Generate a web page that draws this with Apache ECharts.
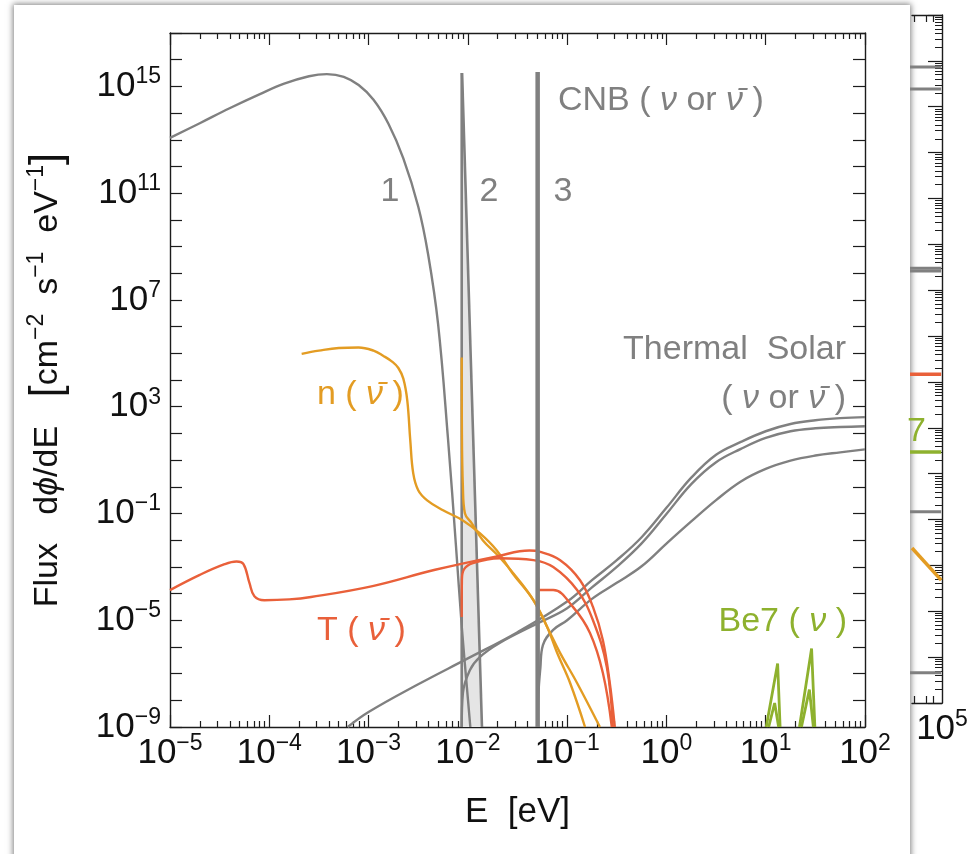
<!DOCTYPE html>
<html><head><meta charset="utf-8">
<script src="https://cdn.jsdelivr.net/npm/echarts@6/dist/echarts.min.js"></script>
<style>
html,body{margin:0;padding:0;background:#fff;width:976px;height:854px;overflow:hidden;}
#card{position:absolute;left:14px;top:5px;width:896px;height:920px;background:#fff;box-shadow:0 0 6px 1px rgba(0,0,0,0.5);}
#chart{position:absolute;left:0;top:0;width:976px;height:854px;}
</style></head><body>
<div id="card"></div>
<div id="chart"></div>
<script>
// ---------- data: log10(E / eV) and log10(flux) ----------
// relic neutrino spectrum for the lightest mass state ("1")
const relicE = [-5, -4.7, -4.4, -4.1, -3.85, -3.6, -3.42, -3.25, -3.1, -2.95, -2.8, -2.65, -2.5, -2.4, -2.3, -2.2, -2.12, -2.06, -2.01, -1.975];
const relicF = [13.07, 13.62, 14.18, 14.70, 15.10, 15.38, 15.46, 15.36, 15.05, 14.5, 13.6, 12.3, 10.5, 8.7, 6.1, 1.8, -2.2, -5.3, -7.5, -9];
// CNB mass state 2 (shaded narrow band)
const band2E = [-2.062, -2.062, -1.858, -2.058];
const band2F = [15.5, -9, -9, 15.5];
const band2LeftE = [-2.062, -2.062];
const band2LeftF = [15.5, -9];
const band2RightE = [-2.058, -1.858];
const band2RightF = [15.5, -9];
// CNB mass state 3 (thick line)
const cnb3E = [-1.297, -1.297];
const cnb3F = [15.54, -9];
// thermal solar (three mass states)
const solar1E = [-3.21, -3.0, -2.5, -2.0, -1.5, -1.0, -0.75, -0.5, -0.25, 0.0, 0.25, 0.5, 0.75, 1.0, 1.25, 1.5, 1.75, 2.0];
const solar1F = [-9, -8.44, -7.40, -6.43, -5.45, -4.30, -3.5, -2.75, -1.89, -0.79, 0.34, 1.2, 1.68, 2.08, 2.35, 2.49, 2.57, 2.61];
const solar2E = [-2.062, -2.05, -1.98, -1.88, -1.68, -1.30, -1.0, -0.75, -0.5, -0.25, 0.0, 0.25, 0.5, 0.75, 1.0, 1.25, 1.5, 1.75, 2.0];
const solar2F = [-9, -7.73, -6.87, -6.38, -5.85, -5.12, -4.55, -3.77, -3.0, -2.12, -1.02, 0.1, 0.92, 1.42, 1.83, 2.08, 2.19, 2.24, 2.27];
const solar3E = [-1.297, -1.29, -1.27, -1.244, -1.143, -1.0, -0.75, -0.5, -0.25, 0.0, 0.25, 0.5, 0.75, 1.0, 1.25, 1.5, 1.75, 2.0];
const solar3F = [-9, -7.8, -6.8, -5.93, -5.37, -5.0, -4.2, -3.6, -2.98, -2.13, -1.3, -0.5, 0.2, 0.67, 0.98, 1.17, 1.29, 1.40];
// n (anti-nu) : three mass states
const n1E = [-3.674, -3.5, -3.3, -3.1, -2.95, -2.85, -2.76, -2.7, -2.65, -2.61, -2.58, -2.55, -2.5, -2.41, -2.25, -2.05, -1.88, -1.71, -1.55, -1.34, -1.20, -1.10, -0.97, -0.82];
const n1F = [4.98, 5.1, 5.2, 5.22, 5.1, 4.9, 4.68, 4.45, 4.05, 3.23, 1.74, 0.5, -0.13, -0.51, -0.88, -1.26, -1.74, -2.38, -3.24, -4.25, -5.26, -6.23, -7.35, -9];
const n2E = [-2.062, -2.06, -2.05, -2.03, -1.96, -1.85, -1.68, -1.51, -1.34, -1.20, -1.07, -0.90, -0.67];
const n2F = [4.84, 2.0, 0.0, -0.99, -1.37, -2.0, -2.64, -3.39, -4.25, -5.26, -6.23, -7.35, -9];
const n3E = [-1.293, -1.29, -1.27];
const n3F = [-3.39, -4.5, -4.85];
// T (anti-nu) : three mass states
const t1E = [-5, -4.7, -4.45, -4.33, -4.26, -4.2, -4.15, -4.05, -3.8, -3.58, -2.96, -2.33, -1.70, -1.38, -1.27, -1.07, -0.87, -0.74, -0.64, -0.57, -0.52];
const t1F = [-3.87, -3.3, -2.9, -2.80, -2.9, -3.6, -4.1, -4.25, -4.22, -4.13, -3.72, -3.11, -2.60, -2.39, -2.44, -2.75, -3.5, -4.5, -5.75, -7.37, -9];
const t2E = [-2.062, -2.06, -2.04, -1.95, -1.68, -1.34, -1.14, -0.90, -0.74, -0.60, -0.54];
const t2F = [-4.88, -3.5, -3.1, -2.86, -2.68, -2.75, -3.01, -3.87, -5.0, -6.76, -9];
const t3E = [-1.297, -1.295, -1.28, -1.14, -0.94, -0.77, -0.64, -0.55];
const t3F = [-5.0, -4.1, -3.87, -3.87, -4.51, -5.48, -6.98, -9];
// Be7 lines
const be7aE = [1.005, 1.12, 1.145];
const be7aF = [-9, -6.62, -9];
const be7bE = [1.03, 1.09, 1.13];
const be7bF = [-9, -8.1, -9];
const be7cE = [1.34, 1.462, 1.495];
const be7cF = [-9, -6.06, -9];
const be7dE = [1.36, 1.44, 1.48];
const be7dF = [-9, -7.6, -9];
// neighbouring panel (partly hidden): horizontal level marks
const sideE = [4.2, 4.98];
const sideGray = [3.866, 3.387, -0.52, -0.58, -5.83, -9.34];
const sideRed = -2.83;
const sideGreen = -4.53;
const sideOrangeE = [4.25, 4.98];
const sideOrangeF = [-6.62, -7.32];

// ---------- helpers ----------
const FONT = '"Liberation Sans", Arial, Helvetica, sans-serif';
const AX = '#1c1c1c';
const GRAY = '#808080', ORANGE = '#e39c23', RED = '#e9603a', GREEN = '#8eb12e';
const pairs = (xs, ys) => xs.map((x, i) => [x, ys[i]]);
const sup = n => String(n).replace('-', '\u2212');
const richTick = {
  b: { fontFamily: FONT, fontSize: 35, color: '#111', lineHeight: 42 },
  s: { fontFamily: FONT, fontSize: 23, color: '#111', lineHeight: 42, verticalAlign: 'top' }
};
const minorX = [];
for (let n = -5; n < 2; n++) for (let k = 2; k <= 9; k++) minorX.push(n + Math.log10(k));
const minorSideY = [];
for (let n = -10; n < 5; n++) for (let k = 2; k <= 9; k++) minorSideY.push(n + Math.log10(k));
const sideMinorX = [4.301, 4.602, 4.778];

function line(xs, ys, color, width, extra) {
  return Object.assign({
    type: 'line', data: pairs(xs, ys), symbol: 'none', showSymbol: false,
    lineStyle: { color: color, width: width }, itemStyle: { color: color },
    smooth: 0.4, animation: false, silent: true, z: 3, xAxisIndex: 0, yAxisIndex: 0
  }, extra || {});
}
const axLine = { show: true, onZero: false, lineStyle: { color: AX, width: 1.4 } };
const noLine = { show: false, onZero: false };

const chart = echarts.init(document.getElementById('chart'), null, { renderer: 'canvas' });
const option = {
  backgroundColor: 'transparent',
  animation: false,
  grid: [
    { left: 170, right: 111, top: 33, bottom: 127 },
    { left: 912, right: 34, top: 15, bottom: 151 }
  ],
  xAxis: [
    { gridIndex: 0, type: 'value', min: -5, max: 2, interval: 1, position: 'bottom',
      axisLine: axLine, splitLine: { show: false },
      axisTick: { inside: true, length: 12, lineStyle: { color: AX, width: 1.2 } },
      axisLabel: { margin: 5, formatter: v => '{b|10}{s|' + sup(Math.round(v)) + '}', rich: richTick },
      name: 'E  [eV]', nameLocation: 'middle', nameGap: 68,
      nameTextStyle: { fontFamily: FONT, fontSize: 35, color: '#111' } },
    { gridIndex: 0, type: 'value', min: -5, max: 2, position: 'bottom', axisLine: noLine, splitLine: { show: false },
      axisTick: { inside: true, length: 6, customValues: minorX, lineStyle: { color: AX, width: 1.2 } },
      axisLabel: { show: false } },
    { gridIndex: 0, type: 'value', min: -5, max: 2, interval: 1, position: 'top', axisLine: axLine, splitLine: { show: false },
      axisTick: { inside: true, length: 12, lineStyle: { color: AX, width: 1.2 } }, axisLabel: { show: false } },
    { gridIndex: 0, type: 'value', min: -5, max: 2, position: 'top', axisLine: noLine, splitLine: { show: false },
      axisTick: { inside: true, length: 6, customValues: minorX, lineStyle: { color: AX, width: 1.2 } },
      axisLabel: { show: false } },
    { gridIndex: 1, type: 'value', min: 4.25, max: 5, position: 'bottom', axisLine: axLine, splitLine: { show: false },
      axisTick: { inside: true, length: 7, customValues: sideMinorX, lineStyle: { color: AX, width: 1.2 } },
      axisLabel: { margin: 5, customValues: [5], formatter: v => '{b|10}{s|' + sup(Math.round(v)) + '}', rich: richTick } },
    { gridIndex: 1, type: 'value', min: 4.25, max: 5, position: 'top', axisLine: axLine, splitLine: { show: false },
      axisTick: { inside: true, length: 7, customValues: sideMinorX, lineStyle: { color: AX, width: 1.2 } },
      axisLabel: { show: false } }
  ],
  yAxis: [
    { gridIndex: 0, type: 'value', min: -9, max: 17, interval: 1, position: 'left',
      axisLine: axLine, splitLine: { show: false },
      axisTick: { inside: true, length: 12, lineStyle: { color: AX, width: 1.2 } },
      axisLabel: { margin: 9, formatter: v => { const r = Math.round(v); return ((r + 9) % 4 === 0) ? '{b|10}{s|' + sup(r) + '}' : ''; }, rich: richTick } },
    { gridIndex: 0, type: 'value', min: -9, max: 17, interval: 1, position: 'right',
      axisLine: axLine, splitLine: { show: false },
      axisTick: { inside: true, length: 12, lineStyle: { color: AX, width: 1.2 } }, axisLabel: { show: false } },
    { gridIndex: 1, type: 'value', min: -10, max: 5, interval: 1, position: 'right',
      axisLine: axLine, splitLine: { show: false },
      axisTick: { inside: true, length: 14, lineStyle: { color: AX, width: 1.2 } }, axisLabel: { show: false } },
    { gridIndex: 1, type: 'value', min: -10, max: 5, position: 'right', axisLine: noLine, splitLine: { show: false },
      axisTick: { inside: true, length: 7, customValues: minorSideY, lineStyle: { color: AX, width: 1 } },
      axisLabel: { show: false } }
  ],
  series: [
    { type: 'custom', xAxisIndex: 0, yAxisIndex: 0, silent: true, animation: false, z: 1,
      data: [[band2E[0], band2F[0]]],
      renderItem: (params, api) => ({
        type: 'polygon',
        shape: { points: band2E.map((e, i) => api.coord([e, band2F[i]])) },
        style: { fill: '#e5e5e5', stroke: null }
      }) },
    line(relicE, relicF, GRAY, 2.4),
    line(band2LeftE, band2LeftF, GRAY, 2.6, { smooth: false }),
    line(band2RightE, band2RightF, GRAY, 2.6, { smooth: false }),
    line(solar1E, solar1F, GRAY, 2.4),
    line(solar2E, solar2F, GRAY, 2.4),
    line(solar3E, solar3F, GRAY, 2.4),
    line(n1E, n1F, ORANGE, 2.4),
    line(n2E, n2F, ORANGE, 2.4),
    line(n3E, n3F, ORANGE, 2.4),
    line(t1E, t1F, RED, 2.4),
    line(t2E, t2F, RED, 2.4),
    line(t3E, t3F, RED, 2.4),
    line(cnb3E, cnb3F, GRAY, 4.5, { smooth: false, z: 4 }),
    line(be7aE, be7aF, GREEN, 2.8, { smooth: false }),
    line(be7bE, be7bF, GREEN, 2.8, { smooth: false }),
    line(be7cE, be7cF, GREEN, 2.8, { smooth: false }),
    line(be7dE, be7dF, GREEN, 2.8, { smooth: false }),
    // neighbouring panel
    ...sideGray.map(v => line(sideE, [v, v], GRAY, 3, { smooth: false, xAxisIndex: 4, yAxisIndex: 2 })),
    line(sideE, [sideRed, sideRed], RED, 3.5, { smooth: false, xAxisIndex: 4, yAxisIndex: 2 }),
    line(sideE, [sideGreen, sideGreen], GREEN, 3.5, { smooth: false, xAxisIndex: 4, yAxisIndex: 2 }),
    line(sideOrangeE, sideOrangeF, ORANGE, 3.5, { smooth: false, xAxisIndex: 4, yAxisIndex: 2 })
  ],
  graphic: [
    { type: 'text', x: 48, y: 380, rotation: Math.PI / 2, silent: true,
      style: { text: '{t|Flux   d}{i|\u03d5}{t|/dE   }{k|[}{t|cm}{s|\u22122}{t|  s}{s|\u22121}{t|  eV}{s|\u22121}{k|]}',
        align: 'center', verticalAlign: 'middle',
        rich: {
          t: { fontFamily: FONT, fontSize: 34, fill: '#111', lineHeight: 46 },
          i: { fontFamily: FONT, fontSize: 34, fontStyle: 'italic', fill: '#111', lineHeight: 46 },
          k: { fontFamily: FONT, fontSize: 44, fill: '#111', lineHeight: 46 },
          s: { fontFamily: FONT, fontSize: 23, fill: '#111', lineHeight: 46, verticalAlign: 'top' }
        } } },
    { type: 'text', x: 390, y: 192, silent: true, style: { text: '1', font: '34px ' + FONT, fill: GRAY, align: 'center', verticalAlign: 'middle' } },
    { type: 'text', x: 489, y: 192, silent: true, style: { text: '2', font: '34px ' + FONT, fill: GRAY, align: 'center', verticalAlign: 'middle' } },
    { type: 'text', x: 563, y: 192, silent: true, style: { text: '3', font: '34px ' + FONT, fill: GRAY, align: 'center', verticalAlign: 'middle' } },
    { type: 'text', x: 558, y: 101, silent: true, style: { text: '{t|CNB ( }{i|\u03bd}{t| or }{i|\u03bd\u0304}{t| )}', align: 'left', verticalAlign: 'middle',
        rich: { t: { fontFamily: FONT, fontSize: 34, fill: GRAY }, i: { fontFamily: FONT, fontSize: 34, fontStyle: 'italic', fill: GRAY } } } },
    { type: 'text', x: 846, y: 350, silent: true, style: { text: 'Thermal  Solar', font: '34px ' + FONT, fill: GRAY, align: 'right', verticalAlign: 'middle' } },
    { type: 'text', x: 846, y: 399, silent: true, style: { text: '{t|( }{i|\u03bd}{t| or }{i|\u03bd\u0304}{t| )}', align: 'right', verticalAlign: 'middle',
        rich: { t: { fontFamily: FONT, fontSize: 34, fill: GRAY }, i: { fontFamily: FONT, fontSize: 34, fontStyle: 'italic', fill: GRAY } } } },
    { type: 'text', x: 317, y: 395, silent: true, style: { text: '{t|n ( }{i|\u03bd\u0304}{t| )}', align: 'left', verticalAlign: 'middle',
        rich: { t: { fontFamily: FONT, fontSize: 34, fill: ORANGE }, i: { fontFamily: FONT, fontSize: 34, fontStyle: 'italic', fill: ORANGE } } } },
    { type: 'text', x: 317, y: 631, silent: true, style: { text: '{t|T ( }{i|\u03bd\u0304}{t| )}', align: 'left', verticalAlign: 'middle',
        rich: { t: { fontFamily: FONT, fontSize: 34, fill: RED }, i: { fontFamily: FONT, fontSize: 34, fontStyle: 'italic', fill: RED } } } },
    { type: 'text', x: 847, y: 622, silent: true, style: { text: '{t|Be7 ( }{i|\u03bd}{t| )}', align: 'right', verticalAlign: 'middle',
        rich: { t: { fontFamily: FONT, fontSize: 34, fill: GREEN }, i: { fontFamily: FONT, fontSize: 34, fontStyle: 'italic', fill: GREEN } } } },
    { type: 'text', x: 926, y: 432, silent: true, style: { text: '7', font: '34px ' + FONT, fill: GREEN, align: 'right', verticalAlign: 'middle' } }
  ]
};
chart.setOption(option);
</script>
</body></html>
